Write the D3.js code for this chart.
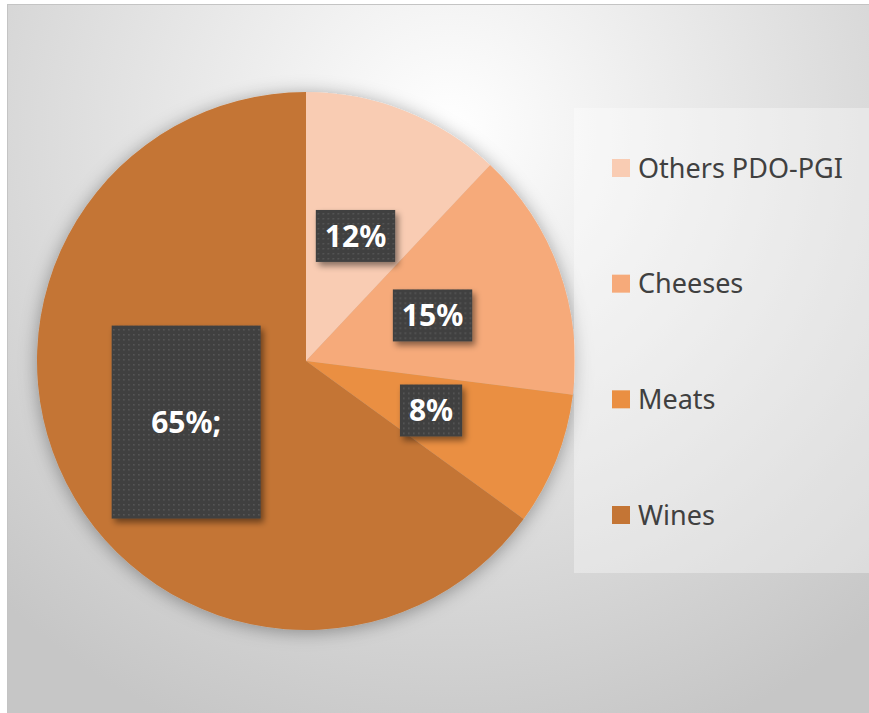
<!DOCTYPE html>
<html>
<head>
    <meta charset="utf-8">
    <style>
        body { margin: 0; background: #fff; }
        .legend text {
          font: 27px "Noto Sans", "Open Sans", sans-serif;
          fill: #404040;
        }
        .label text {
          font: bold 30px "Noto Sans", "Open Sans", sans-serif;
          fill: #fff;
        }
    </style>
    <script src="https://d3js.org/d3.v7.min.js"></script>
</head>
<body>
    <script>
    // chart data
    var categories = ["Others PDO-PGI", "Cheeses", "Meats", "Wines"];
    var values = [12, 15, 8, 65];
    var labels = ["12%", "15%", "8%", "65%;"];
    var colorRange = ["#f9ccb3", "#f6aa7a", "#ea8f42", "#c47535"];

    // the wines label box was stretched by hand in the original
    var bigBox = { "Wines": [149, 193] };

    var width = 869,
        height = 713,
        cx = 306,
        cy = 361,
        radius = 269;

    var svg = d3.select("body").append("svg")
        .attr("width", width)
        .attr("height", height);

    var defs = svg.append("defs");

    // background gradient
    var bg = defs.append("radialGradient")
        .attr("id", "bg")
        .attr("gradientUnits", "userSpaceOnUse")
        .attr("cx", 450).attr("cy", 130).attr("r", 650);
    bg.append("stop").attr("offset", "0%").attr("stop-color", "#ffffff");
    bg.append("stop").attr("offset", "100%").attr("stop-color", "#c6c6c6");

    // soft shadow for the pie
    var pieShadow = defs.append("filter")
        .attr("id", "pieShadow")
        .attr("x", "-20%").attr("y", "-20%")
        .attr("width", "140%").attr("height", "140%");
    pieShadow.append("feDropShadow")
        .attr("dx", 0).attr("dy", 2)
        .attr("stdDeviation", 9)
        .attr("flood-color", "#000")
        .attr("flood-opacity", 0.35);

    // shadow for label boxes
    var boxShadow = defs.append("filter")
        .attr("id", "boxShadow")
        .attr("x", "-30%").attr("y", "-30%")
        .attr("width", "160%").attr("height", "160%");
    boxShadow.append("feDropShadow")
        .attr("dx", 3).attr("dy", 4)
        .attr("stdDeviation", 3)
        .attr("flood-color", "#000")
        .attr("flood-opacity", 0.45);

    // dotted fill of the label boxes
    var dots = defs.append("pattern")
        .attr("id", "dots")
        .attr("patternUnits", "userSpaceOnUse")
        .attr("width", 5).attr("height", 5);
    dots.append("rect").attr("width", 5).attr("height", 5).attr("fill", "#404040");
    dots.append("rect").attr("x", 2).attr("y", 2)
        .attr("width", 1.5).attr("height", 1.5).attr("fill", "#5a5a5a");

    // chart area
    svg.append("rect")
        .attr("x", 7.5).attr("y", 4.5)
        .attr("width", width).attr("height", height)
        .attr("fill", "url(#bg)")
        .attr("stroke", "#c4c4c4");

    var color = d3.scaleOrdinal()
        .domain(categories)
        .range(colorRange);

    var table = categories.map(function(c, i) {
      return { name: c, value: values[i], label: labels[i] };
    });

    var pie = d3.pie()
        .sort(null)
        .value(function(d) { return d.value; });

    var arc = d3.arc()
        .innerRadius(0)
        .outerRadius(radius);

    var arcs = pie(table);

    var g = svg.append("g")
        .attr("transform", "translate(" + cx + "," + cy + ")");

    g.append("g")
        .attr("filter", "url(#pieShadow)")
      .selectAll("path")
        .data(arcs)
        .enter().append("path")
        .attr("d", arc)
        .attr("fill", function(d) { return color(d.data.name); });

    // labels in dark boxes at each slice centroid
    var label = g.selectAll(".label")
        .data(arcs)
        .enter().append("g")
        .attr("class", "label")
        .attr("transform", function(d) { return "translate(" + arc.centroid(d) + ")"; });

    var boxRect = label.append("rect")
        .attr("fill", "url(#dots)")
        .attr("filter", "url(#boxShadow)");

    label.append("text")
        .attr("text-anchor", "middle")
        .attr("dy", "0.36em")
        .text(function(d) { return d.data.label; });

    boxRect.each(function(d) {
      var t = d3.select(this.parentNode).select("text").node();
      var w = t.getComputedTextLength() + 18,
          h = 52;
      if (bigBox[d.data.name]) { w = bigBox[d.data.name][0]; h = bigBox[d.data.name][1]; }
      d3.select(this)
          .attr("x", -w / 2).attr("y", -h / 2)
          .attr("width", w).attr("height", h);
    });

    // legend
    var legendBox = { x: 574, y: 108, w: 300, h: 465 };

    svg.append("rect")
        .attr("x", legendBox.x).attr("y", legendBox.y)
        .attr("width", legendBox.w).attr("height", legendBox.h)
        .attr("fill", "#ffffff")
        .attr("fill-opacity", 0.35);

    var rowY = d3.scalePoint()
        .domain(categories)
        .range([legendBox.y + 60, legendBox.y + 407]);

    var legend = svg.append("g")
        .attr("class", "legend")
      .selectAll("g")
        .data(categories)
        .enter().append("g")
        .attr("transform", function(d) { return "translate(" + (legendBox.x + 38) + "," + rowY(d) + ")"; });

    legend.append("rect")
        .attr("y", -9)
        .attr("width", 18).attr("height", 18)
        .attr("fill", function(d) { return color(d); });

    legend.append("text")
        .attr("x", 26)
        .attr("dy", "0.36em")
        .text(function(d) { return d; });
    </script>
</body>
</html>
